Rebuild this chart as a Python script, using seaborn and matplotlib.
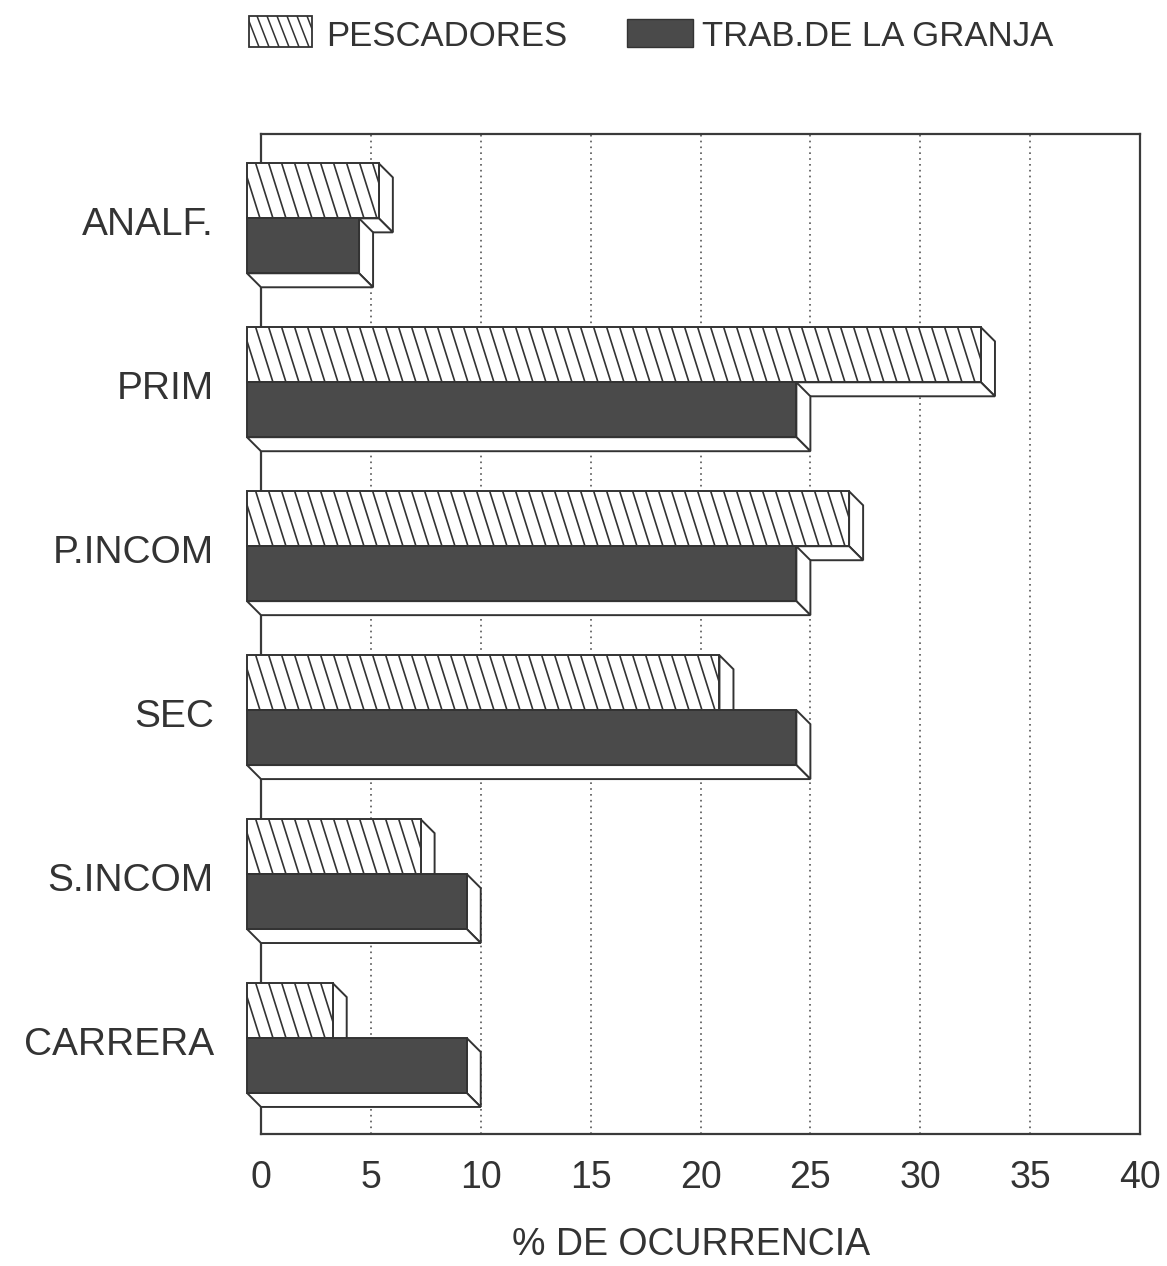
import matplotlib
matplotlib.use("Agg")
import matplotlib.pyplot as plt
import seaborn as sns
import pandas as pd
from matplotlib.patches import Polygon, Rectangle
from matplotlib.collections import LineCollection
from matplotlib.transforms import Affine2D, IdentityTransform

# Education level distribution (% of occurrence) for two occupational groups
categories = ["ANALF.", "PRIM", "P.INCOM", "SEC", "S.INCOM", "CARRERA"]
pescadores = [6.0, 33.4, 27.4, 21.5, 7.9, 3.9]
granja = [5.1, 25.0, 25.0, 25.0, 10.0, 10.0]
series_names = ["PESCADORES", "TRAB.DE LA GRANJA"]
x_ticks = [0, 5, 10, 15, 20, 25, 30, 35, 40]
x_label = "% DE OCURRENCIA"

df = pd.DataFrame({
    "nivel": categories * 2,
    "pct": pescadores + granja,
    "grupo": [series_names[0]] * len(categories) + [series_names[1]] * len(categories),
})

sns.set_theme(style="white")
plt.rcParams["font.family"] = ["Liberation Sans", "DejaVu Sans"]

INK = "#333333"
DARK = "#4a4a4a"
W, H = 1167, 1266

fig = plt.figure(figsize=(W / 100, H / 100), dpi=100)
fig.patch.set_facecolor("white")
ax = fig.add_axes([261 / W, 1 - 1134 / H, (1140 - 261) / W, (1134 - 134) / H])

sns.barplot(data=df, y="nivel", x="pct", hue="grupo", orient="h", width=0.67,
            palette=["white", DARK], saturation=1, errorbar=None, legend=False,
            ax=ax)

ax.set_xlim(0, 40)
ax.set_ylim(5.5, -0.6)

# 3-D extrusion: front faces are shifted up-left, sides fill the gap
DX, DY = 14, 14

def to_disp(x, y):
    return ax.transData.transform((x, y))

z = 3.0
for ci, container in enumerate(ax.containers):
    for p in container.patches:
        x0, y0, w, h = p.get_x(), p.get_y(), p.get_width(), p.get_height()
        (L, y_a), (R, y_b) = to_disp(x0, y0), to_disp(x0 + w, y0 + h)
        T, B = max(y_a, y_b), min(y_a, y_b)

        right = Polygon([(R - DX, T + DY), (R, T), (R, B), (R - DX, B + DY)],
                        closed=True, facecolor="white", edgecolor=INK,
                        linewidth=1.4, transform=IdentityTransform(),
                        zorder=z, clip_on=False)
        bottom = Polygon([(L - DX, B + DY), (R - DX, B + DY), (R, B), (L, B)],
                         closed=True, facecolor="white", edgecolor=INK,
                         linewidth=1.4, transform=IdentityTransform(),
                         zorder=z, clip_on=False)
        ax.add_artist(right)
        ax.add_artist(bottom)

        p.set_transform(ax.transData + Affine2D().translate(-DX, DY))
        p.set_edgecolor(INK)
        p.set_linewidth(1.4)
        p.set_zorder(z + 0.1 if ci == 0 else z + 1.1)
        p.set_clip_on(False)

        if ci == 0:
            fl, fr, ft, fb = L - DX, R - DX, T + DY, B + DY
            hh = ft - fb
            shift = hh * 17 / 54
            segs = []
            xs = fl - shift
            while xs < fr + 13:
                segs.append([(xs, ft), (xs + shift, fb)])
                xs += 13
            lc = LineCollection(segs, colors=INK, linewidths=1.2,
                                transform=IdentityTransform(), zorder=z + 0.2)
            ax.add_collection(lc, autolim=False)
            lc.set_clip_path(p)
    z += 1.0

# grid, spines and ticks
ax.set_axisbelow(True)
ax.xaxis.grid(True, linestyle=(0, (1, 2.5)), color="#555555", linewidth=1.2)
ax.yaxis.grid(False)
for s in ax.spines.values():
    s.set_color("#3a3a3a")
    s.set_linewidth(1.6)
    s.set_zorder(1.5)

px_per_unit = abs(to_disp(0, 1)[1] - to_disp(0, 0)[1])
label_shift = 11 / px_per_unit
ax.set_yticks([i - label_shift for i in range(len(categories))], categories)
ax.set_xticks(x_ticks, [str(t) for t in x_ticks])
ax.tick_params(axis="y", length=0, pad=34, labelsize=28, labelcolor=INK)
ax.tick_params(axis="x", length=0, pad=19, labelsize=27, labelcolor=INK)
ax.set_ylabel("")
ax.set_xlabel(x_label, fontsize=27, color=INK)
ax.xaxis.set_label_coords((691 - 261) / (1140 - 261), -0.093)

# legend drawn in figure pixels
leg_y0, leg_y1 = H - 47, H - 16
hbox = Rectangle((249, leg_y0), 63, leg_y1 - leg_y0, facecolor="white",
                 edgecolor=INK, linewidth=1.3, transform=IdentityTransform())
fig.add_artist(hbox)
segs = []
xs = 249 - 12
while xs < 312 + 10:
    segs.append([(xs, leg_y1), (xs + 12, leg_y0)])
    xs += 10
lc = LineCollection(segs, colors=INK, linewidths=1.1, transform=IdentityTransform())
fig.add_artist(lc)
lc.set_clip_path(hbox)
fig.text(326 / W, 1 - 37 / H, series_names[0], fontsize=25, color=INK, va="center")

dbox = Rectangle((627, H - 47), 66, 28, facecolor=DARK, edgecolor=INK,
                 linewidth=1.0, transform=IdentityTransform())
fig.add_artist(dbox)
fig.text(702 / W, 1 - 37 / H, series_names[1], fontsize=25, color=INK, va="center")

fig.savefig("out.png", dpi=100, facecolor="white")
